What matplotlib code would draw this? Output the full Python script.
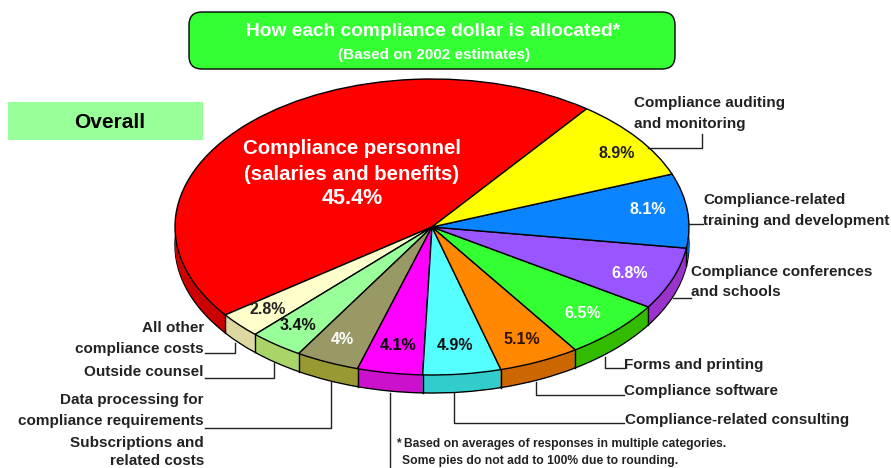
import numpy as np
import matplotlib
matplotlib.use("Agg")
import matplotlib.pyplot as plt
from matplotlib.patches import FancyBboxPatch, Rectangle

plt.rcParams['font.family'] = ['Liberation Sans', 'DejaVu Sans']
plt.rcParams['font.weight'] = 'bold'

# slices, counter-clockwise starting at the red one
shares = [45.4, 2.8, 3.4, 4, 4.1, 4.9, 5.1, 6.5, 6.8, 8.1, 8.9]
top_colors = ["#ff0000", "#ffffcc", "#99ff99", "#999966", "#ff00ff", "#55ffff",
              "#ff8800", "#33ff33", "#9955ff", "#0a84ff", "#ffff00"]
side_colors = ["#cc0000", "#dcd8a0", "#a8d468", "#999933", "#cc11cc", "#33cccc",
               "#cc6600", "#33bb00", "#9933cc", "#0066cc", "#cccc00"]
pct_colors = ["white", "#222222", "#111111", "white", "black", "#111111",
              "#331100", "white", "white", "white", "#222222"]
pct_pos = [(352, 199), (268, 309), (298, 326), (342, 339), (398, 346), (455, 345),
           (522, 339), (583, 313), (630, 273), (648, 210), (617, 154)]

# pie geometry in reference pixels
cx, cy, rx, ry, depth = 432, 227, 257, 148, 18
start = 53

fig = plt.figure(figsize=(8.91, 4.68), dpi=100)
ax = fig.add_axes([0, 0, 1, 1])

# extruded side, stacked copies of the pie
for d in range(depth, 0, -1):
    ax.pie(shares, colors=side_colors, startangle=start, center=(0, -d / ry), radius=1,
           wedgeprops=dict(edgecolor="black" if d == depth else "none", linewidth=1))
wedges, _ = ax.pie(shares, colors=top_colors, startangle=start, center=(0, 0), radius=1,
                   wedgeprops=dict(edgecolor="black", linewidth=1))
ax.set_aspect('auto')
ax.set_xlim(-cx / rx, (891 - cx) / rx)
ax.set_ylim((cy - 468) / ry, cy / ry)
ax.axis('off')

# vertical seams on the side
for w in wedges:
    a = np.deg2rad(w.theta2)
    if np.sin(a) < -0.03:
        ax.plot([np.cos(a)] * 2, [np.sin(a), np.sin(a) - depth / ry], color="black", lw=1)

# overlay in pixel coords for boxes, text and leaders
ov = fig.add_axes([0, 0, 1, 1], facecolor="none")
ov.set_xlim(0, 891)
ov.set_ylim(468, 0)
ov.axis('off')

ov.add_patch(FancyBboxPatch((189, 12), 486, 57, boxstyle="round,pad=0,rounding_size=13",
                            fc="#33ff33", ec="black", lw=1))
ov.add_patch(Rectangle((8, 102), 195, 38, fc="#99ff99", ec="none"))
ov.text(433, 31, "How each compliance dollar is allocated*", color="white", fontsize=13.8,
        ha="center", va="center")
ov.text(434, 55, "(Based on 2002 estimates)", color="white", fontsize=11, ha="center", va="center")
ov.text(110, 122, "Overall", color="black", fontsize=15, ha="center", va="center")

ov.text(352, 148, "Compliance personnel", color="white", fontsize=14.7, ha="center", va="center")
ov.text(352, 174, "(salaries and benefits)", color="white", fontsize=14.7, ha="center", va="center")
for v, (x, y), c in zip(shares, pct_pos, pct_colors):
    fs = 15.5 if v > 40 else 11.5
    ov.text(x, y, f"{v:g}%", color=c, fontsize=fs, ha="center", va="center")

# left labels
left_labels = [("All other", 328), ("compliance costs", 349), ("Outside counsel", 372),
               ("Data processing for", 400), ("compliance requirements", 421),
               ("Subscriptions and", 443), ("related costs", 461)]
for t, y in left_labels:
    ov.text(204, y, t, color="#222222", fontsize=11, ha="right", va="center")

# right labels
right_labels = [("Compliance auditing", 634, 103), ("and monitoring", 634, 124),
                ("Compliance-related", 703, 200), ("training and development", 703, 221),
                ("Compliance conferences", 691, 272), ("and schools", 691, 292),
                ("Forms and printing", 624, 365), ("Compliance software", 624, 391),
                ("Compliance-related consulting", 625, 420)]
for t, x, y in right_labels:
    ov.text(x, y, t, color="#222222", fontsize=11, ha="left", va="center")

ov.text(396, 444, "* Based on averages of responses in multiple categories.", color="#222222",
        fontsize=8.7, ha="left", va="center")
ov.text(402, 461, "Some pies do not add to 100% due to rounding.", color="#222222",
        fontsize=8.7, ha="left", va="center")

leaders = [([648, 702, 702], [148, 148, 134]),
           ([688, 703], [224, 224]),
           ([673, 691], [298, 298]),
           ([605, 605, 624], [357, 368, 368]),
           ([536, 536, 624], [382, 395, 395]),
           ([454, 454, 624], [393, 423, 423]),
           ([235, 235, 205], [343, 353, 353]),
           ([274, 274, 205], [363, 378, 378]),
           ([331, 331, 205], [382, 428, 428]),
           ([390, 390], [393, 468])]
for xs, ys in leaders:
    ov.plot(xs, ys, color="#222222", lw=1)

fig.savefig("out.png", dpi=100)
